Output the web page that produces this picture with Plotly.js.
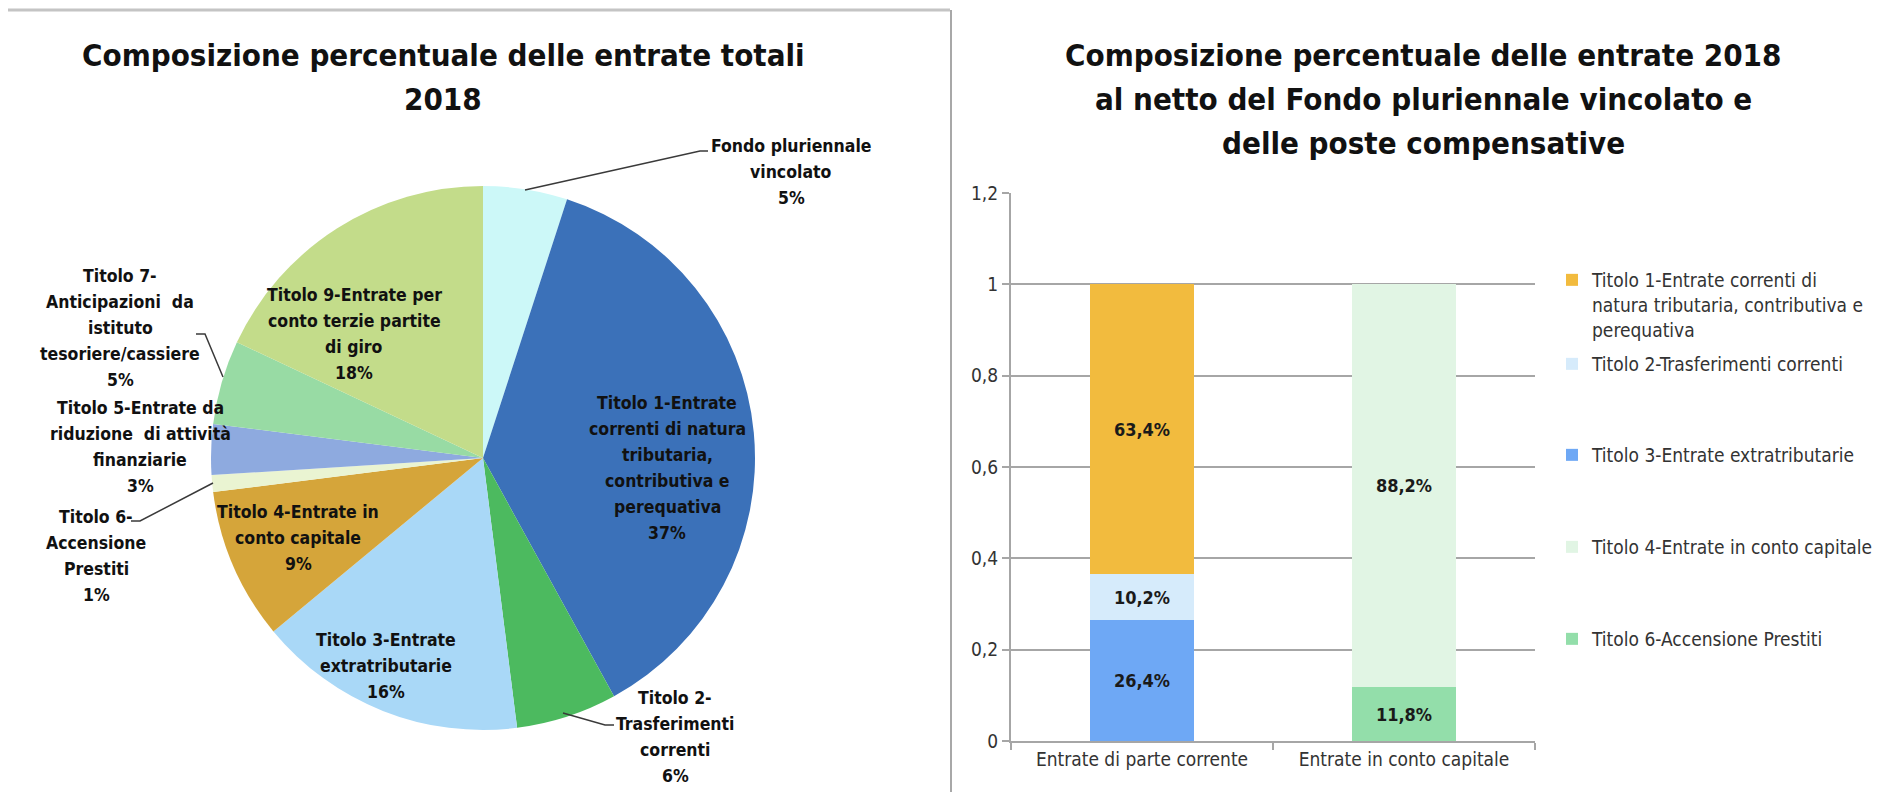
<!DOCTYPE html>
<html><head><meta charset="utf-8">
<script src="https://cdn.plot.ly/plotly-3.0.1.min.js"></script>
<style>html,body{margin:0;padding:0;background:#fff;} #chart{width:1892px;height:792px;}</style>
</head><body><div id="chart"></div>
<script>
// ---------------- DATA ----------------
const pieTitleLines = ['Composizione percentuale delle entrate totali', '2018'];
const pieLabels = [
  'Fondo pluriennale vincolato',
  'Titolo 1-Entrate correnti di natura tributaria, contributiva e perequativa',
  'Titolo 2-Trasferimenti correnti',
  'Titolo 3-Entrate extratributarie',
  'Titolo 4-Entrate in conto capitale',
  'Titolo 6-Accensione Prestiti',
  'Titolo 5-Entrate da riduzione di attività finanziarie',
  'Titolo 7-Anticipazioni da istituto tesoriere/cassiere',
  'Titolo 9-Entrate per conto terzie partite di giro'
];
const pieValues = [5, 37, 6, 16, 9, 1, 3, 5, 18];
const pieLabelLines = [
  ['Fondo pluriennale', 'vincolato'],
  ['Titolo 1-Entrate', 'correnti di natura', 'tributaria,', 'contributiva e', 'perequativa'],
  ['Titolo 2-', 'Trasferimenti', 'correnti'],
  ['Titolo 3-Entrate', 'extratributarie'],
  ['Titolo 4-Entrate in', 'conto capitale'],
  ['Titolo 6-', 'Accensione', 'Prestiti'],
  ['Titolo 5-Entrate da', 'riduzione  di attività', 'finanziarie'],
  ['Titolo 7-', 'Anticipazioni  da', 'istituto', 'tesoriere/cassiere'],
  ['Titolo 9-Entrate per', 'conto terzie partite', 'di giro']
];

const barTitleLines = ['Composizione percentuale delle entrate 2018', 'al netto del Fondo pluriennale vincolato e', 'delle poste compensative'];
const barCategories = ['Entrate di parte corrente', 'Entrate in conto capitale'];
const barSeriesNames = [
  'Titolo 1-Entrate correnti di<br>natura tributaria, contributiva e<br>perequativa',
  'Titolo 2-Trasferimenti correnti',
  'Titolo 3-Entrate extratributarie',
  'Titolo 4-Entrate in conto capitale',
  'Titolo 6-Accensione Prestiti'
];
const titolo1Values = [0.634, null];
const titolo2Values = [0.102, null];
const titolo3Values = [0.264, null];
const titolo4Values = [null, 0.882];
const titolo6Values = [null, 0.118];

// ---------------- STYLE / LAYOUT ----------------
const W = 1892, H = 792;
const px = x => x / W;
const py = y => 1 - y / H;
const NARROW = "'Liberation Sans Narrow', 'DejaVu Sans Condensed', 'Arial Narrow', sans-serif";

const pieColors = ['#ccf8f8', '#3b71b9', '#4cba5f', '#a9d8f7', '#d5a53a', '#eaf4d2', '#8eaadf', '#98dba4', '#c3dc8a'];
// label placement: [centre x, first line y] in pixels
const pieLabelPos = [
  [791, 146], [667, 403], [675, 698], [386, 640], [298, 512],
  [96, 517], [140, 408], [120, 276], [354, 295]
];
const pieLineGap = 26;
// leader lines in pixels
const leaders = [
  [[525, 190], [700, 151], [708, 151]],
  [[563, 713], [605, 725], [614, 725]],
  [[223, 377], [205, 334], [196, 334]],
  [[213, 483], [140, 521], [131, 521]]
];

const barColors = ['#f2bb3e', '#d6ebfb', '#6ea8f5', '#e1f5e4', '#93deaa'];

const total = pieValues.reduce((a, b) => a + b, 0);
const annotations = [];
pieLabelLines.forEach((lines, i) => {
  const all = lines.concat([Math.round(pieValues[i] / total * 100) + '%']);
  all.forEach((t, k) => {
    annotations.push({
      text: t, xref: 'paper', yref: 'paper',
      x: px(pieLabelPos[i][0]), y: py(pieLabelPos[i][1] + k * pieLineGap),
      xanchor: 'center', yanchor: 'middle', showarrow: false,
      font: {family: NARROW, size: 17.5, weight: 'bold', color: '#111'}
    });
  });
});
function addTitle(lines, cx, y0, gap) {
  lines.forEach((t, k) => annotations.push({
    text: t, xref: 'paper', yref: 'paper', x: px(cx), y: py(y0 + k * gap),
    xanchor: 'center', yanchor: 'middle', showarrow: false,
    font: {family: NARROW, size: 31, weight: 'bold', color: '#111'}
  }));
}
addTitle(pieTitleLines, 443, 55, 44);
addTitle(barTitleLines, 1423, 55, 44);

const shapes = leaders.map(pts => ({
  type: 'path', xref: 'paper', yref: 'paper',
  path: 'M' + pts.map(p => px(p[0]) + ',' + py(p[1])).join(' L'),
  line: {color: '#3a3a3a', width: 1.5}
}));
// chart frames
shapes.push({type: 'line', xref: 'paper', yref: 'paper', x0: px(8), x1: px(950), y0: py(10), y1: py(10), line: {color: '#c4c4c4', width: 3}});
shapes.push({type: 'line', xref: 'paper', yref: 'paper', x0: px(951), x1: px(951), y0: py(10), y1: py(792), line: {color: '#a8a8a8', width: 2}});

const traces = [];
traces.push({
  type: 'pie', labels: pieLabels, values: pieValues, sort: false,
  direction: 'clockwise', rotation: 0, textinfo: 'none', showlegend: false,
  marker: {colors: pieColors, line: {width: 0}},
  domain: {x: [px(211), px(755)], y: [py(730), py(186)]},
  hovertemplate: '%{label}<br>%{percent}<extra></extra>'
});

const barSeries = [
  {vals: titolo3Values, idx: 2}, {vals: titolo2Values, idx: 1}, {vals: titolo1Values, idx: 0},
  {vals: titolo6Values, idx: 4}, {vals: titolo4Values, idx: 3}
];
const legendIds = ['legend', 'legend2', 'legend3', 'legend4', 'legend5'];
barSeries.forEach(s => {
  traces.push({
    type: 'bar', x: barCategories, y: s.vals, name: barSeriesNames[s.idx],
    marker: {color: barColors[s.idx]}, legend: legendIds[s.idx],
    texttemplate: '%{y:.1%}', textposition: 'inside', insidetextanchor: 'middle',
    textangle: 0, constraintext: 'none',
    textfont: {family: NARROW, size: 18, weight: 'bold', color: '#1a1a1a'},
    hovertemplate: '%{x}<br>%{y:.1%}<extra>' + barSeriesNames[s.idx].replace(/<br>/g, ' ') + '</extra>'
  });
});

const legendY = [261, 345, 436, 528, 620];
const layout = {
  width: W, height: H, margin: {l: 0, r: 0, t: 0, b: 0},
  paper_bgcolor: '#fff', plot_bgcolor: '#fff',
  separators: ',.', barmode: 'stack', bargap: 0.6,
  showlegend: true,
  xaxis: {
    domain: [px(1011), px(1535)], type: 'category', showgrid: false,
    showline: true, linecolor: '#a6a6a6', linewidth: 2,
    ticks: 'outside', tickson: 'boundaries', ticklen: 7, tickcolor: '#a6a6a6', tickwidth: 2,
    tickfont: {family: NARROW, size: 19, color: '#333'}, fixedrange: true
  },
  yaxis: {
    domain: [py(741), py(193)], range: [0, 1.2], dtick: 0.2, tick0: 0,
    showline: true, linecolor: '#a6a6a6', linewidth: 2, zeroline: false,
    showgrid: true, gridcolor: '#a6a6a6', gridwidth: 2,
    ticks: 'outside', ticklen: 7, tickcolor: '#a6a6a6', tickwidth: 2,
    tickfont: {family: NARROW, size: 19, color: '#333'}, fixedrange: true
  },
  annotations: annotations,
  shapes: shapes
};
legendIds.forEach((id, i) => {
  layout[id] = {
    x: px(1552), y: py(legendY[i]), xanchor: 'left', yanchor: 'top',
    valign: 'top', bgcolor: 'rgba(0,0,0,0)',
    font: {family: NARROW, size: 19, color: '#333'}
  };
});

Plotly.newPlot('chart', traces, layout, {displayModeBar: false, responsive: false});
</script>
</body></html>
